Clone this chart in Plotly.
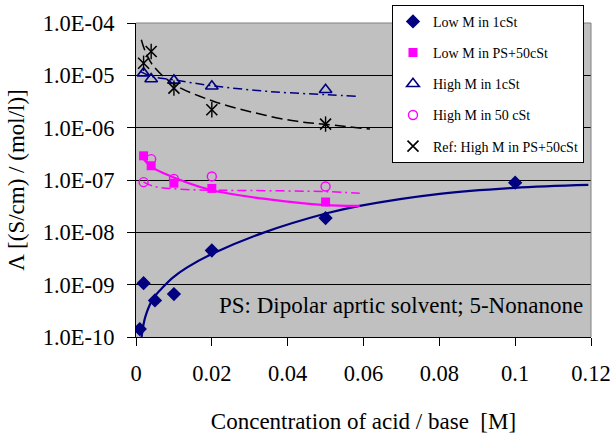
import plotly.graph_objects as go

# ---------------- data ----------------
x_low_1cst = [0.001, 0.002, 0.005, 0.01, 0.02, 0.05, 0.1]
y_low_1cst = [1.42e-10, 1.07e-9, 5.0e-10, 6.6e-10, 4.5e-9, 1.87e-8, 8.9e-8]

x_low_ps = [0.002, 0.004, 0.01, 0.02, 0.05]
y_low_ps = [2.9e-7, 1.87e-7, 8.7e-8, 6.9e-8, 3.8e-8]

x_high_1cst = [0.002, 0.004, 0.01, 0.02, 0.05]
y_high_1cst = [1.1e-5, 8.5e-6, 8.0e-6, 6.2e-6, 5.3e-6]

x_high_50 = [0.002, 0.004, 0.01, 0.02, 0.05]
y_high_50 = [9.1e-8, 2.5e-7, 1.05e-7, 1.17e-7, 7.5e-8]

x_ref = [0.002, 0.004, 0.01, 0.02, 0.05]
y_ref = [1.7e-5, 2.86e-5, 5.7e-6, 2.2e-6, 1.17e-6]

# trend lines (as drawn in the reference)
tx_low_1cst = [0.0014, 0.00245, 0.00455, 0.0072, 0.0098, 0.0135, 0.0201, 0.0335, 0.0503, 0.059, 0.0801, 0.0998, 0.1193]
ty_low_1cst = [9.2e-11, 2.42e-10, 5.47e-10, 9.08e-10, 1.38e-9, 2.14e-9, 3.88e-9, 9.78e-9, 2.31e-8, 3.21e-8, 5.45e-8, 7.1e-8, 8.1e-8]

tx_low_ps = [0.0011, 0.004, 0.0073, 0.0196, 0.0336, 0.05, 0.059]
ty_low_ps = [3.0e-7, 1.8e-7, 1.35e-7, 6.5e-8, 4.4e-8, 3.3e-8, 3.2e-8]

tx_high_1cst = [0.0011, 0.0042, 0.0099, 0.0202, 0.0353, 0.0503, 0.0586]
ty_high_1cst = [1.19e-5, 9.5e-6, 8.2e-6, 6.3e-6, 4.9e-6, 4.26e-6, 3.95e-6]

tx_high_50 = [0.002, 0.005, 0.015, 0.03, 0.05, 0.059]
ty_high_50 = [9.1e-8, 7.5e-8, 6.5e-8, 6.3e-8, 6.0e-8, 5.6e-8]

tx_ref = [0.0014, 0.00245, 0.0046, 0.0099, 0.0204, 0.031, 0.0415, 0.0503, 0.0617]
ty_ref = [4.8e-5, 2.86e-5, 1.5e-5, 6.8e-6, 3.2e-6, 1.95e-6, 1.35e-6, 1.15e-6, 9.4e-7]

x_ticks = [0, 0.02, 0.04, 0.06, 0.08, 0.1, 0.12]
x_labels = ["0", "0.02", "0.04", "0.06", "0.08", "0.1", "0.12"]
y_ticks = [1e-10, 1e-9, 1e-8, 1e-7, 1e-6, 1e-5, 1e-4]
y_labels = ["1.0E-10", "1.0E-09", "1.0E-08", "1.0E-07", "1.0E-06", "1.0E-05", "1.0E-04"]

series_names = ["Low M in 1cSt", "Low M in PS+50cSt", "High M in 1cSt",
                "High M in 50 cSt", "Ref: High M in PS+50cSt"]

NAVY = "#000080"
MAG = "#FF00FF"
FONT = "Liberation Serif"

fig = go.Figure()

# ---------------- trend lines ----------------
fig.add_trace(go.Scatter(x=tx_low_1cst, y=ty_low_1cst, mode="lines", line=dict(color=NAVY, width=2.2, shape="spline"),
                         showlegend=False, hoverinfo="skip"))
fig.add_trace(go.Scatter(x=tx_low_ps, y=ty_low_ps, mode="lines", line=dict(color=MAG, width=2.2, shape="spline"),
                         showlegend=False, hoverinfo="skip"))
fig.add_trace(go.Scatter(x=tx_high_1cst, y=ty_high_1cst, mode="lines",
                         line=dict(color=NAVY, width=1.5, shape="spline", dash="9px,4px,2px,4px"),
                         showlegend=False, hoverinfo="skip"))
fig.add_trace(go.Scatter(x=tx_high_50, y=ty_high_50, mode="lines",
                         line=dict(color=MAG, width=1.5, shape="spline", dash="9px,4px,2px,4px"),
                         showlegend=False, hoverinfo="skip"))
fig.add_trace(go.Scatter(x=tx_ref, y=ty_ref, mode="lines",
                         line=dict(color="black", width=1.5, shape="spline", dash="11px,5px"),
                         showlegend=False, hoverinfo="skip"))

# ---------------- markers ----------------
fig.add_trace(go.Scatter(x=x_low_1cst, y=y_low_1cst, mode="markers", name=series_names[0], legendgroup="a",
                         marker=dict(symbol="diamond", size=11, color=NAVY, line=dict(width=0))))
fig.add_trace(go.Scatter(x=x_low_ps, y=y_low_ps, mode="markers", name=series_names[1], legendgroup="b",
                         marker=dict(symbol="square", size=9, color=MAG, line=dict(width=0))))
fig.add_trace(go.Scatter(x=x_high_1cst, y=y_high_1cst, mode="markers", name=series_names[2], legendgroup="c",
                         marker=dict(symbol="triangle-up-open", size=11, color=NAVY, line=dict(width=1.6, color=NAVY))))
fig.add_trace(go.Scatter(x=x_high_50, y=y_high_50, mode="markers", name=series_names[3], legendgroup="d",
                         marker=dict(symbol="circle-open", size=9, color=MAG, line=dict(width=1.4, color=MAG))))
fig.add_trace(go.Scatter(x=x_ref, y=y_ref, mode="markers", name=series_names[4], legendgroup="e",
                         marker=dict(symbol="x-thin-open", size=11, color="black", line=dict(width=1.6, color="black"))))
fig.add_trace(go.Scatter(x=x_ref, y=y_ref, mode="markers", legendgroup="e", showlegend=False, hoverinfo="skip",
                         marker=dict(symbol="line-ns-open", size=11, color="black", line=dict(width=1.4, color="black"))))

fig.add_annotation(x=0.0213, y=-9.4, xref="x", yref="y", text="PS: Dipolar aprtic solvent; 5-Nonanone",
                   showarrow=False, xanchor="left", yanchor="middle", font=dict(family=FONT, size=23, color="black"))

# plot frame (top / right in gray)
fig.add_shape(type="line", xref="paper", yref="paper", x0=0, x1=1, y0=1, y1=1, line=dict(color="#808080", width=1))
fig.add_shape(type="line", xref="paper", yref="paper", x0=1, x1=1, y0=0, y1=1, line=dict(color="#808080", width=1))

fig.update_layout(
    width=614, height=437,
    margin=dict(l=136, r=23, t=23, b=100, autoexpand=False),
    paper_bgcolor="white", plot_bgcolor="#C0C0C0",
    font=dict(family=FONT, size=22.5, color="black"),
    legend=dict(x=0.5626, y=1.058, xanchor="left", yanchor="top",
                bgcolor="white", bordercolor="black", borderwidth=1,
                font=dict(family=FONT, size=14, color="black"),
                tracegroupgap=10, itemwidth=30),
    xaxis=dict(range=[0, 0.12], tickvals=x_ticks, ticktext=x_labels,
               ticks="outside", ticklen=8, tickcolor="black", tickwidth=1,
               showline=True, linecolor="black", linewidth=1, automargin=False,
               showgrid=False, zeroline=False, ticklabelstandoff=8,
               title=dict(text="Concentration of acid / base  [M]", standoff=27,
                          font=dict(family=FONT, size=23))),
    yaxis=dict(type="log", range=[-10, -4], tickvals=y_ticks, ticktext=y_labels,
               ticks="outside", ticklen=8, tickcolor="black", tickwidth=1,
               showline=True, linecolor="black", linewidth=1, automargin=False,
               showgrid=True, gridcolor="black", gridwidth=1, zeroline=False,
               ticklabelstandoff=8,
               title=dict(text="Λ [(S/cm) / (mol/l)]", standoff=11,
                          font=dict(family=FONT, size=23))),
)

fig.write_html("out.html", config={"displayModeBar": False},
               post_script="document.body.style.margin='0';document.body.style.padding='0';")
